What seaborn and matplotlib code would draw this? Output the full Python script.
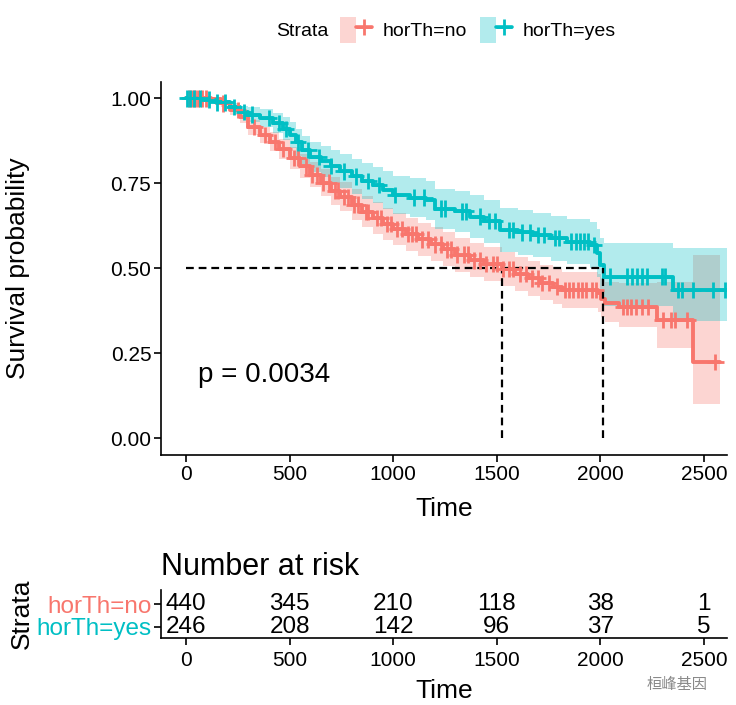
import numpy as np
import pandas as pd
import matplotlib
matplotlib.use("Agg")
from matplotlib import pyplot as plt
from matplotlib.patches import Patch
from matplotlib.lines import Line2D
from matplotlib.legend_handler import HandlerTuple
import seaborn as sns

# Kaplan-Meier curves (step knots: time, survival, 95% CI)
strata = ["horTh=no", "horTh=yes"]
palette = {"horTh=no": "#F8766D", "horTh=yes": "#00BFC4"}

no_time = [0, 120, 170, 212, 260, 300, 357, 405, 450, 502, 550, 598, 650, 700, 743,
           800, 850, 900, 950, 1000, 1060, 1120, 1180, 1240, 1300, 1371, 1440, 1524,
           1590, 1650, 1710, 1770, 1815, 1990, 2005, 2020, 2090, 2275, 2445, 2577]
no_surv = [1.0, 0.997, 0.985, 0.966, 0.945, 0.915, 0.892, 0.872, 0.85, 0.824, 0.80,
           0.775, 0.752, 0.728, 0.71, 0.687, 0.666, 0.648, 0.63, 0.615, 0.60, 0.585,
           0.57, 0.555, 0.54, 0.523, 0.512, 0.497, 0.483, 0.47, 0.457, 0.446, 0.436,
           0.427, 0.41, 0.398, 0.386, 0.348, 0.224, 0.224]
no_lower = [1.0, 0.992, 0.975, 0.951, 0.927, 0.893, 0.867, 0.844, 0.820, 0.792, 0.765,
            0.738, 0.713, 0.687, 0.667, 0.642, 0.620, 0.601, 0.582, 0.567, 0.551, 0.536,
            0.520, 0.505, 0.490, 0.473, 0.462, 0.447, 0.432, 0.419, 0.405, 0.394, 0.383,
            0.372, 0.355, 0.342, 0.328, 0.266, 0.100, 0.100]
no_upper = [1.0, 1.0, 0.995, 0.981, 0.963, 0.937, 0.917, 0.900, 0.880, 0.856, 0.835,
            0.812, 0.791, 0.769, 0.753, 0.732, 0.712, 0.695, 0.678, 0.663, 0.649, 0.634,
            0.620, 0.605, 0.590, 0.573, 0.562, 0.547, 0.534, 0.521, 0.509, 0.498, 0.489,
            0.482, 0.467, 0.458, 0.455, 0.460, 0.540, 0.540]

yes_time = [0, 70, 140, 212, 260, 300, 357, 420, 470, 502, 530, 560, 598, 650, 700,
            743, 800, 850, 900, 950, 1000, 1080, 1160, 1200, 1300, 1371, 1440, 1515,
            1600, 1675, 1760, 1838, 1950, 1985, 2000, 2017, 2351, 2612]
yes_surv = [1.0, 0.996, 0.988, 0.975, 0.96, 0.952, 0.942, 0.928, 0.91, 0.892, 0.87,
            0.848, 0.828, 0.815, 0.80, 0.785, 0.77, 0.757, 0.745, 0.73, 0.716, 0.708,
            0.70, 0.675, 0.667, 0.652, 0.638, 0.613, 0.605, 0.598, 0.588, 0.578, 0.568,
            0.545, 0.51, 0.475, 0.436, 0.436]
yes_lower = [1.0, 0.992, 0.980, 0.963, 0.942, 0.930, 0.916, 0.898, 0.876, 0.855, 0.830,
             0.806, 0.784, 0.769, 0.752, 0.735, 0.718, 0.704, 0.691, 0.675, 0.660, 0.651,
             0.642, 0.616, 0.607, 0.590, 0.575, 0.549, 0.540, 0.533, 0.522, 0.512, 0.501,
             0.475, 0.440, 0.390, 0.343, 0.343]
yes_upper = [1.0, 1.0, 0.996, 0.987, 0.978, 0.974, 0.968, 0.958, 0.944, 0.929, 0.910,
             0.890, 0.872, 0.861, 0.848, 0.835, 0.822, 0.810, 0.799, 0.785, 0.772, 0.765,
             0.758, 0.734, 0.727, 0.714, 0.701, 0.677, 0.670, 0.663, 0.654, 0.644, 0.635,
             0.615, 0.590, 0.575, 0.560, 0.560]

# censoring times (+ marks)
no_censor = [15, 30, 45, 60, 75, 95, 180, 250, 330, 380, 430, 470, 520, 540, 580, 610,
             630, 660, 690, 720, 735, 760, 780, 810, 830, 870, 880, 920, 940, 970, 990,
             1020, 1040, 1070, 1090, 1110, 1140, 1170, 1200, 1230, 1260, 1280, 1310,
             1340, 1360, 1390, 1420, 1450, 1480, 1500, 1530, 1560, 1580, 1610, 1640,
             1670, 1700, 1720, 1750, 1790, 1830, 1850, 1870, 1890, 1910, 1930, 1960,
             1980, 2110, 2130, 2150, 2170, 2200, 2230, 2300, 2340, 2360, 2420, 2555]
yes_censor = [5, 20, 40, 65, 110, 150, 190, 230, 280, 320, 400, 450, 480, 540, 590, 640,
              700, 760, 820, 880, 930, 1010, 1100, 1150, 1230, 1250, 1330, 1350, 1420,
              1460, 1490, 1560, 1580, 1620, 1660, 1700, 1730, 1780, 1800, 1860, 1880,
              1900, 1920, 1940, 1970, 2046, 2128, 2152, 2177, 2201, 2225, 2297, 2312,
              2374, 2394, 2447, 2543, 2600]

medians = [1524, 2011]
p_label = "p = 0.0034"

# number at risk table
risk_times = [0, 500, 1000, 1500, 2000, 2500]
risk_no = [440, 345, 210, 118, 38, 1]
risk_yes = [246, 208, 142, 96, 37, 5]

sns.set_theme(style="ticks")
plt.rcParams["font.family"] = ["Liberation Sans", "Noto Sans CJK SC", "DejaVu Sans"]
plt.rcParams.update({
    "axes.linewidth": 1.2, "xtick.major.width": 1.2, "ytick.major.width": 1.2,
    "xtick.color": "black", "ytick.color": "black", "axes.edgecolor": "black",
    "text.color": "black", "axes.labelcolor": "black",
})

curves = {
    "horTh=no": (no_time, no_surv, no_lower, no_upper, no_censor),
    "horTh=yes": (yes_time, yes_surv, yes_lower, yes_upper, yes_censor),
}

df = pd.concat([pd.DataFrame({"time": c[0], "surv": c[1], "strata": s})
                for s, c in curves.items()], ignore_index=True)
cens = []
for s, c in curves.items():
    t = np.array(c[0])
    idx = np.searchsorted(t, c[4], side="right") - 1
    cens.append(pd.DataFrame({"time": c[4], "surv": np.array(c[1])[idx], "strata": s}))
cens = pd.concat(cens, ignore_index=True)

fig = plt.figure(figsize=(7.36, 7.05), dpi=100)
W, H = 736, 705
ax = fig.add_axes([161 / W, 1 - 455 / H, 566 / W, 373 / H])
tab = fig.add_axes([161 / W, 1 - 638 / H, 566 / W, 48 / H])

for s, c in curves.items():
    ax.fill_between(c[0], c[2], c[3], step="post", color=palette[s], alpha=0.3, lw=0)

sns.lineplot(data=df, x="time", y="surv", hue="strata", palette=palette,
             drawstyle="steps-post", estimator=None, lw=2.8, legend=False, ax=ax)
sns.scatterplot(data=cens, x="time", y="surv", hue="strata", palette=palette,
                marker="+", s=140, linewidth=2.0, legend=False, ax=ax, zorder=4)

# median survival lines
ax.plot([0, max(medians)], [0.5, 0.5], color="black", lw=1.6, ls=(0, (3.5, 2.2)))
for m in medians:
    ax.plot([m, m], [0, 0.5], color="black", lw=1.6, ls=(0, (3.5, 2.2)))

ax.text(58, 0.186, p_label, fontsize=20, ha="left", va="center")

ax.set_xlim(-121, 2611)
ax.set_ylim(-0.05, 1.048)
ax.set_xticks(risk_times)
ax.set_yticks([0, 0.25, 0.5, 0.75, 1.0])
ax.set_yticklabels(["0.00", "0.25", "0.50", "0.75", "1.00"])
ax.tick_params(axis="both", labelsize=15, length=5, pad=2, labelcolor="black")
ax.set_xlabel("Time", fontsize=19)
ax.set_ylabel("Survival probability", fontsize=19)
ax.xaxis.set_label_coords(0.5, -0.112)
ax.yaxis.set_label_coords(-0.231, 0.5)
sns.despine(ax=ax)

# legend on top
handles = [(Patch(facecolor=palette[s], alpha=0.3, lw=0),
            Line2D([], [], color=palette[s], lw=2.6, marker="+", ms=11, mew=2))
           for s in strata]
fig.text(276 / W, 1 - 31 / H, "Strata", fontsize=14, ha="left", va="center")
fig.legend(handles, strata, loc="center left", bbox_to_anchor=(340 / W, 1 - 30 / H),
           ncol=2, frameon=False, fontsize=14, handlelength=1.65, handleheight=1.65,
           handletextpad=0.55, columnspacing=0.65, borderpad=0, borderaxespad=0,
           handler_map={tuple: HandlerTuple(ndivide=None, pad=0)})

# risk table
for t, a, b in zip(risk_times, risk_no, risk_yes):
    tab.text(t, 2, str(a), ha="center", va="center", fontsize=17.5)
    tab.text(t, 1, str(b), ha="center", va="center", fontsize=17.5)
tab.set_xlim(-121, 2611)
tab.set_ylim(0.52, 2.61)
tab.set_xticks(risk_times)
tab.set_yticks([2, 1])
tab.set_yticklabels(strata)
for lbl, s in zip(tab.get_yticklabels(), strata):
    lbl.set_color(palette[s])
tab.tick_params(axis="x", labelsize=15, length=5, pad=4.5, labelcolor="black")
tab.tick_params(axis="y", labelsize=17.5, length=5, pad=2)
tab.set_title("Number at risk", loc="left", fontsize=22, pad=11)
tab.set_xlabel("Time", fontsize=19)
tab.set_ylabel("Strata", fontsize=19)
tab.xaxis.set_label_coords(0.5, -0.85)
tab.yaxis.set_label_coords(-0.224, 0.5)
sns.despine(ax=tab)

# watermark (kept just below the tick labels)
fig.text(677 / W, 1 - 685 / H, "桓峰基因", fontsize=11, color="#8a8a8a",
         ha="center", va="center", family=["Noto Sans CJK SC", "DejaVu Sans"])

fig.savefig("out.png", dpi=100)
